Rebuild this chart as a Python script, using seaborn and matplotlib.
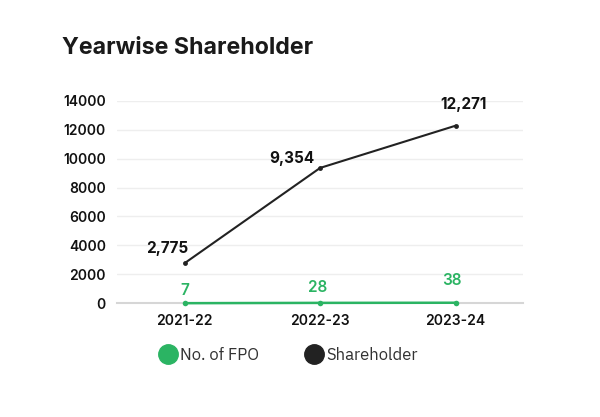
import matplotlib
matplotlib.use("Agg")
import matplotlib.pyplot as plt
import seaborn as sns
import pandas as pd
from matplotlib.lines import Line2D

years = ["2021-22", "2022-23", "2023-24"]
fpo = [7, 28, 38]
shareholders = [2775, 9354, 12271]
yticks = [0, 2000, 4000, 6000, 8000, 10000, 12000, 14000]

sns.set_theme(style="white")
plt.rcParams['font.family'] = ['Inter', 'DejaVu Sans']

green = "#2bb463"
dark = "#222222"

df = pd.DataFrame({"year": years, "fpo": fpo, "sh": shareholders})

fig = plt.figure(figsize=(6, 4.17), dpi=100)
ax = fig.add_axes([0.195, 0.2727, 0.677, 0.4858])

sns.lineplot(data=df, x="year", y="sh", ax=ax, color=dark, lw=1.5,
             marker="o", markersize=3.5, markeredgewidth=0, sort=False)
sns.lineplot(data=df, x="year", y="fpo", ax=ax, color=green, lw=1.8,
             marker="o", markersize=4, markeredgewidth=0, sort=False)
for ln in ax.lines:
    ln.set_clip_on(False)
    ln.set_zorder(5)

ax.set_xlim(-0.5, 2.5)
ax.set_ylim(0, 14000)
ax.set_yticks(yticks)
ax.set_yticklabels([str(v) for v in yticks])
ax.set_xlabel("")
ax.set_ylabel("")
ax.grid(axis="y", color="#eeeeee", lw=1)
ax.set_axisbelow(True)
for s in ["top", "right", "left"]:
    ax.spines[s].set_visible(False)
ax.spines["bottom"].set_color("#d6d6d6")
ax.spines["bottom"].set_linewidth(1.5)
ax.spines["bottom"].set_zorder(1)
ax.tick_params(axis="both", length=0, labelsize=10, colors="#111111", pad=8)
ax.tick_params(axis="y", pad=8)
for lab in ax.get_xticklabels() + ax.get_yticklabels():
    lab.set_fontweight("semibold")

sh_off = [(-0.13, 1000), (-0.21, 650), (0.06, 1500)]
for i, v in enumerate(shareholders):
    dx, dy = sh_off[i]
    ax.text(i + dx, v + dy, f"{v:,}", ha="center", va="center", fontsize=11,
            fontweight="bold", color="#111111", clip_on=False)
fpo_off = [(0.0, 900), (-0.02, 1050), (-0.03, 1550)]
for i, v in enumerate(fpo):
    dx, dy = fpo_off[i]
    ax.text(i + dx, v + dy, str(v), ha="center", va="center", fontsize=11,
            fontweight="semibold", color=green, clip_on=False)

fig.text(0.103, 0.885, "Yearwise Shareholder", fontsize=16.7, fontweight="bold",
         color="#1a1a1a", ha="left", va="center")

handles = [Line2D([], [], marker="o", ls="", color=green, markersize=14),
           Line2D([], [], marker="o", ls="", color=dark, markersize=14)]
leg = fig.legend(handles, ["No. of FPO", "Shareholder"], loc="center",
           bbox_to_anchor=(0.48, 0.148), ncol=2, frameon=False,
           handletextpad=0.15, columnspacing=2.7, handlelength=1.2,
           prop={"family": ["IBM Plex Sans", "Noto Sans", "DejaVu Sans"], "size": 12})
for t in leg.get_texts():
    t.set_color("#333333")

fig.savefig("out.png", dpi=100, facecolor="white")
